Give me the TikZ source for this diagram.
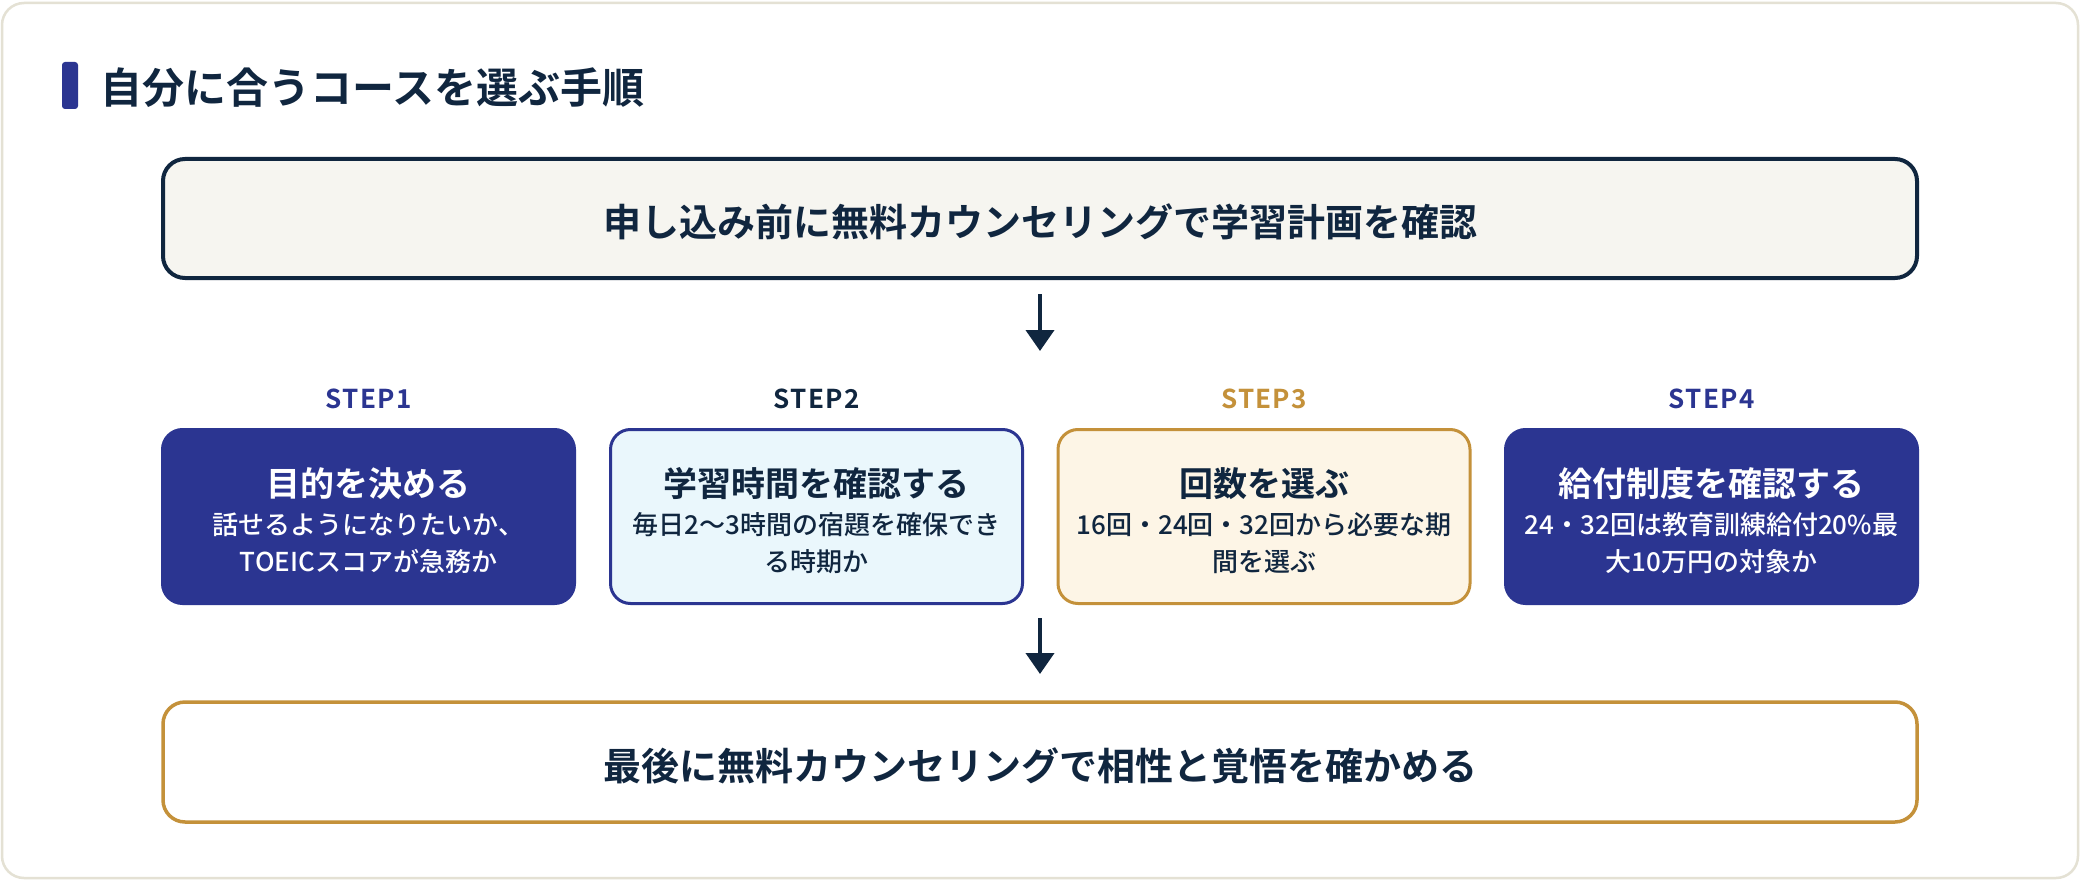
\documentclass[tikz,border=0pt]{standalone}
\usepackage{fontspec}
\setmainfont{Noto Sans CJK JP}[BoldFont={Noto Sans CJK JP Bold}]
\newfontfamily\jpmed{Noto Sans CJK JP Medium}
\usetikzlibrary{arrows.meta}
\definecolor{navy}{HTML}{10263F}
\definecolor{indigo}{HTML}{2B3591}
\definecolor{gold}{HTML}{C4913A}
\definecolor{cream}{HTML}{FDF5E6}
\definecolor{lightcyan}{HTML}{EAF7FC}
\definecolor{topfill}{HTML}{F6F5F0}
\definecolor{framec}{HTML}{E4E1D4}
\tikzset{
  wide/.style={draw, rounded corners=22, minimum width=1754, minimum height=119, inner sep=0},
  stepbox/.style={draw, line width=3, rounded corners=20, minimum width=412, minimum height=174, inner sep=0},
  bigtext/.style={anchor=base, inner sep=0, text=navy, font=\bfseries\fontsize{38}{38}\selectfont},
  steplabel/.style={anchor=base, inner sep=0, font=\bfseries\fontsize{26}{26}\selectfont\addfontfeature{LetterSpace=5}},
  boxtitle/.style={anchor=base, inner sep=0, font=\bfseries\fontsize{34}{34}\selectfont},
  boxline/.style={anchor=base, inner sep=0, font=\jpmed\fontsize{26}{26}\selectfont},
  flowarrow/.style={draw=navy, line width=4, -{Triangle[width=28pt,length=21pt]}}
}
\begin{document}
\begin{tikzpicture}[x=1pt,y=-1pt]
\useasboundingbox (0,0) rectangle (2080,880);
\fill[white] (0,0) rectangle (2080,880);
\draw[framec, line width=2.5, rounded corners=22] (2,3) rectangle (2078,878);
% title
\node[fill=indigo, rounded corners=3, minimum width=16, minimum height=47, inner sep=0] (bar) at (70,85.5) {};
\node[anchor=base west, inner sep=0, text=navy, font=\bfseries\fontsize{42}{42}\selectfont] (title) at (100,104) {自分に合うコースを選ぶ手順};
% top box
\node[wide, draw=navy, line width=4, fill=topfill] (top) at (1040,218.5) {};
\node[bigtext] (toptext) at (1040,236.5) {申し込み前に無料カウンセリングで学習計画を確認};
\coordinate (a1s) at (1040,294);
\coordinate (a1e) at (1040,351);
\draw[flowarrow] (a1s) -- (a1e);
% steps
\node[steplabel, text=indigo] (l1) at (368.5,408) {STEP1};
\node[steplabel, text=navy] (l2) at (816.5,408) {STEP2};
\node[steplabel, text=gold] (l3) at (1264,408) {STEP3};
\node[steplabel, text=indigo] (l4) at (1711.5,408) {STEP4};
\node[stepbox, draw=indigo, fill=indigo] (s1) at (368.5,516.5) {};
\node[stepbox, draw=indigo, fill=lightcyan] (s2) at (816.5,516.5) {};
\node[stepbox, draw=gold, fill=cream] (s3) at (1264,516.5) {};
\node[stepbox, draw=indigo, fill=indigo] (s4) at (1711.5,516.5) {};
\node[boxtitle, text=white] (s1a) at (368.5,496) {目的を決める};
\node[boxline, text=white] (s1b) at (368.5,534) {話せるようになりたいか、};
\node[boxline, text=white] (s1c) at (368.5,571) {TOEICスコアが急務か};
\node[boxtitle, text=navy] (s2a) at (816.5,496) {学習時間を確認する};
\node[boxline, text=navy] (s2b) at (816.5,534) {毎日2〜3時間の宿題を確保でき};
\node[boxline, text=navy] (s2c) at (816.5,571) {る時期か};
\node[boxtitle, text=navy] (s3a) at (1264,496) {回数を選ぶ};
\node[boxline, text=navy] (s3b) at (1264,534) {16回・24回・32回から必要な期};
\node[boxline, text=navy] (s3c) at (1264,571) {間を選ぶ};
\node[boxtitle, text=white] (s4a) at (1711.5,496) {給付制度を確認する};
\node[boxline, text=white] (s4b) at (1711.5,534) {24・32回は教育訓練給付20\%最};
\node[boxline, text=white] (s4c) at (1711.5,571) {大10万円の対象か};
\coordinate (a2s) at (1040,618);
\coordinate (a2e) at (1040,674);
\draw[flowarrow] (a2s) -- (a2e);
% bottom box
\node[wide, draw=gold, line width=3.5, fill=white, minimum height=120] (bottom) at (1040,762) {};
\node[bigtext] (bottomtext) at (1040,780.5) {最後に無料カウンセリングで相性と覚悟を確かめる};
\end{tikzpicture}
\end{document}
